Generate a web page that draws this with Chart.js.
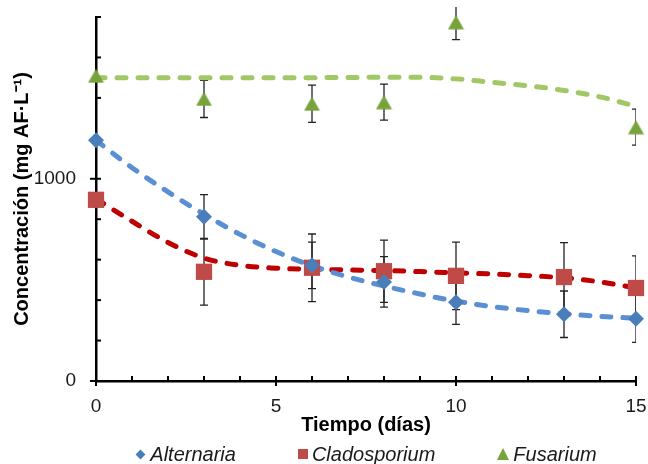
<!DOCTYPE html>
<html>
<head>
<meta charset="utf-8">
<script src="https://cdn.jsdelivr.net/npm/chart.js@4.4.1/dist/chart.umd.min.js"></script>
<style>
  html, body { margin: 0; padding: 0; background: #fff; }
  #wrap { position: relative; width: 648px; height: 464px; }
  #legend { position: absolute; left: 96px; width: 540px; top: 442px; display: flex; justify-content: center; gap: 62px;
            font: italic 20px "Liberation Sans", Arial, sans-serif; color: #1a1a1a; line-height: 24px; }
  .item { display: flex; align-items: center; white-space: nowrap; }
  .mk { display: inline-block; margin-right: 4px; }
</style>
</head>
<body>
<div id="wrap">
  <canvas id="c" width="648" height="464"></canvas>
  <div id="legend"></div>
</div>
<script>
// ---- data ----
const days = [0, 3, 6, 8, 10, 13, 15];
const fusariumDays = [0, 3, 6, 8, 10, 15];
const alternaria = [1190, 812, 572, 490, 390, 330, 308];
const alternariaErr = [0, 110, 115, 125, 110, 115, 117];
const cladosporium = [896, 540, 560, 543, 520, 514, 460];
const cladosporiumErr = [0, 165, 167, 154, 167, 170, 159];
const fusarium = [1509, 1395, 1371, 1379, 1774, 1255];
const fusariumErr = [0, 92, 92, 89, 86, 89];

// fitted trend curves
const fitDays = [0, 1, 2, 3, 4, 5, 6, 7, 8, 9, 10, 11, 12, 13, 14, 15];
const alternariaFit = [1190, 1055, 935, 825, 725, 640, 570, 515, 470, 430, 395, 368, 348, 332, 320, 310];
const cladosporiumFit = [900, 790, 685, 608, 572, 558, 552, 549, 546, 541, 535, 529, 521, 510, 490, 460];
const fusariumFit = [1500, 1500, 1500, 1500, 1500, 1500, 1500, 1501, 1502, 1502, 1494, 1477, 1460, 1437, 1405, 1358];

const xTickLabels = [0, 5, 10, 15];
const yTickLabels = [0, 1000];

const seriesNames = ['Alternaria', 'Cladosporium', 'Fusarium'];

// ---- styles ----
const C_BLUE = '#4A7EBB', C_BLUE_LINE = '#5A8FD3';
const C_RED = '#BE4B48', C_RED_LINE = '#C00000';
const C_GREEN = '#77A33A', C_GREEN_LINE = '#A2C865';

function triangleImage(color) {
  const cv = document.createElement('canvas');
  cv.width = 17; cv.height = 15;
  const g = cv.getContext('2d');
  g.fillStyle = color;
  g.beginPath(); g.moveTo(8.5, 0.5); g.lineTo(16.5, 14.5); g.lineTo(0.5, 14.5); g.closePath(); g.fill();
  return cv;
}

const pts = (xs, ys) => xs.map((x, i) => ({ x, y: ys[i] }));

const markerDatasets = [
  { label: seriesNames[0], data: pts(days, alternaria), err: alternariaErr, pointStyle: 'rectRot', pointRadius: 8,
    backgroundColor: C_BLUE, borderColor: C_BLUE, borderWidth: 0, showLine: false, clip: false, order: 0 },
  { label: seriesNames[1], data: pts(days, cladosporium), err: cladosporiumErr, pointStyle: 'rect', pointRadius: 11.5,
    backgroundColor: C_RED, borderColor: C_RED, borderWidth: 0, showLine: false, clip: false, order: 0 },
  { label: seriesNames[2], data: pts(fusariumDays, fusarium), err: fusariumErr, pointStyle: triangleImage(C_GREEN), pointRadius: 9,
    backgroundColor: C_GREEN, borderColor: C_GREEN, borderWidth: 0, showLine: false, clip: false, order: 0 }
];
const fitStyle = { showLine: true, pointRadius: 0, borderWidth: 5, borderDash: [9, 12], borderCapStyle: 'round',
                   cubicInterpolationMode: 'monotone', clip: false, order: 1, fill: false, isFit: true };
const fitDatasets = [
  Object.assign({ label: 'fitA', data: pts(fitDays, alternariaFit), borderColor: C_BLUE_LINE }, fitStyle),
  Object.assign({ label: 'fitC', data: pts(fitDays, cladosporiumFit), borderColor: C_RED_LINE }, fitStyle),
  Object.assign({ label: 'fitF', data: pts(fitDays, fusariumFit), borderColor: C_GREEN_LINE }, fitStyle)
];

const axisPlugin = {
  id: 'axisTicksAndErrors',
  beforeDatasetsDraw(chart) {
    const { ctx, chartArea: ca, scales: { x, y } } = chart;
    ctx.save();
    // error bars
    ctx.save();
    ctx.beginPath(); ctx.rect(ca.left - 10, ca.top - 10, ca.right - ca.left + 10, ca.bottom - ca.top + 20); ctx.clip();
    ctx.strokeStyle = '#222'; ctx.lineWidth = 1.3;
    chart.data.datasets.forEach(ds => {
      if (!ds.err) return;
      ds.data.forEach((p, i) => {
        const e = ds.err[i]; if (!e) return;
        const px = x.getPixelForValue(p.x);
        const y1 = y.getPixelForValue(p.y + e), y2 = y.getPixelForValue(p.y - e);
        ctx.beginPath();
        ctx.moveTo(px, y1); ctx.lineTo(px, y2);
        ctx.moveTo(px - 4, y1); ctx.lineTo(px + 4, y1);
        ctx.moveTo(px - 4, y2); ctx.lineTo(px + 4, y2);
        ctx.stroke();
      });
    });
    ctx.restore();
    // tick marks
    ctx.strokeStyle = '#000'; ctx.lineWidth = 2;
    const y0 = y.getPixelForValue(0), x0 = x.getPixelForValue(0);
    for (let d = 0; d <= 15; d++) {
      const px = x.getPixelForValue(d);
      const major = xTickLabels.includes(d);
      ctx.beginPath(); ctx.moveTo(px, y0 - 5); ctx.lineTo(px, y0 + (major ? 5 : 0)); ctx.stroke();
    }
    for (let v = 0; v <= 1800; v += 200) {
      const py = y.getPixelForValue(v);
      const major = yTickLabels.includes(v);
      ctx.beginPath(); ctx.moveTo(x0 - (major ? 6 : 0), py); ctx.lineTo(x0 + 5, py); ctx.stroke();
    }
    ctx.restore();
  }
};

const tickFont = { family: '"Liberation Sans", Arial, sans-serif', size: 19 };
const titleFont = { family: '"Liberation Sans", Arial, sans-serif', size: 20, weight: 'bold' };

const chart = new Chart(document.getElementById('c'), {
  type: 'scatter',
  data: { datasets: markerDatasets.concat(fitDatasets) },
  options: {
    responsive: false,
    devicePixelRatio: 1,
    animation: false,
    layout: { padding: { left: 0, right: 12, top: 17, bottom: 0 } },
    plugins: { legend: { display: false }, tooltip: { enabled: false } },
    scales: {
      x: {
        type: 'linear', min: 0, max: 15,
        afterFit: s => { s.height = 83; s.paddingLeft = 0; s.paddingRight = 0; },
        grid: { display: false, drawTicks: false },
        border: { display: true, color: '#000', width: 2.5 },
        ticks: { stepSize: 1, autoSkip: false, padding: 14, color: '#1a1a1a', font: tickFont, maxRotation: 0,
                 callback: v => xTickLabels.includes(v) ? String(v) : '' },
        title: { display: true, text: 'Tiempo (días)', color: '#000', font: titleFont, padding: { top: 0, bottom: 27 } }
      },
      y: {
        type: 'linear', min: 0, max: 1800,
        afterFit: s => { s.width = 96; s.paddingTop = 0; s.paddingBottom = 0; },
        grid: { display: false, drawTicks: false },
        border: { display: true, color: '#000', width: 2.5 },
        ticks: { stepSize: 200, autoSkip: false, padding: 20, color: '#1a1a1a', font: tickFont,
                 callback: v => yTickLabels.includes(v) ? String(v) : '' },
        title: { display: true, text: 'Concentración (mg AF·L⁻¹)', color: '#000', font: titleFont, padding: { top: 10, bottom: 0 } }
      }
    }
  },
  plugins: [axisPlugin]
});

// HTML legend built from the marker datasets
const legend = document.getElementById('legend');
const shapeCss = {
  rectRot: c => `width:7px;height:7px;background:${c};transform:rotate(45deg);margin-left:2px;margin-right:6px;`,
  rect: c => `width:10px;height:10px;background:${c};`,
  tri: c => `width:0;height:0;border-left:6.5px solid transparent;border-right:6.5px solid transparent;border-bottom:12px solid ${c};`
};
markerDatasets.forEach(ds => {
  const item = document.createElement('div'); item.className = 'item';
  const mk = document.createElement('span'); mk.className = 'mk';
  const kind = typeof ds.pointStyle === 'string' ? ds.pointStyle : 'tri';
  mk.style.cssText += shapeCss[kind](ds.backgroundColor);
  const tx = document.createElement('span'); tx.textContent = ds.label;
  item.appendChild(mk); item.appendChild(tx); legend.appendChild(item);
});
</script>
</body>
</html>
